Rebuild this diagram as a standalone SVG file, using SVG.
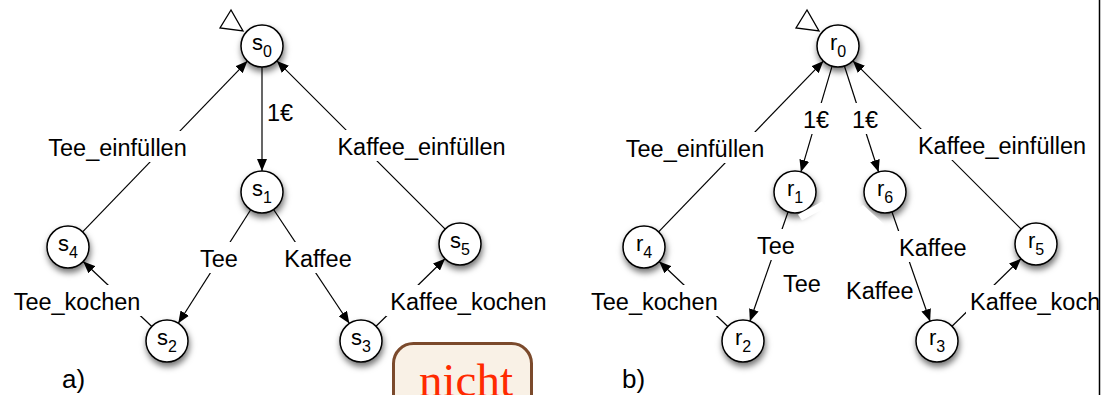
<svg xmlns="http://www.w3.org/2000/svg" width="1113" height="395" viewBox="0 0 1113 395">
  <style>
    text { font-family: "Liberation Sans", Arial, Helvetica, sans-serif; fill: #000; }
    .node circle { fill: #fff; stroke: #000; stroke-width: 1.5; filter: url(#shadow); }
    .node text { font-size: 22px; text-anchor: middle; }
    .node tspan { font-size: 16px; }
    .edge { stroke: #000; stroke-width: 1.2; fill: none; marker-end: url(#arrow); }
    .bg { fill: #fff; }
    .lbl { font-size: 23.5px; }
    .mid { text-anchor: middle; }
    .start-mark { fill: #fff; stroke: #000; stroke-width: 1.3; }
    .part { font-size: 26px; }
  </style>
  <defs>
    <filter id="shadow" x="-60%" y="-60%" width="220%" height="220%">
      <feDropShadow dx="1" dy="4" stdDeviation="3" flood-color="#000" flood-opacity="0.55"/>
    </filter>
    <marker id="arrow" markerWidth="13" markerHeight="10" refX="12" refY="5" orient="auto" markerUnits="userSpaceOnUse">
      <path d="M0,0 L12,5 L0,10 z" fill="#000"/>
    </marker>
    <clipPath id="frame">
      <rect x="0" y="0" width="1098.8" height="395"/>
    </clipPath>
  </defs>

  <rect x="0" y="0" width="1113" height="395" fill="#fff"/>

  <!-- transitions -->
  <g id="connectors">
    <!-- a) -->
    <line class="edge" x1="262" y1="67" x2="262" y2="171"/>
    <line class="edge" x1="250.7" y1="209.7" x2="178.3" y2="323.3"/>
    <line class="edge" x1="273.6" y1="209.5" x2="349.4" y2="323.5"/>
    <line class="edge" x1="151.8" y1="326.5" x2="83.2" y2="261.5"/>
    <line class="edge" x1="376" y1="326.3" x2="445" y2="258.7"/>
    <line class="edge" x1="82.6" y1="231.9" x2="247.4" y2="61.1"/>
    <line class="edge" x1="445.2" y1="229.2" x2="276.9" y2="60.9"/>
    <!-- b) -->
    <line class="edge" x1="832.1" y1="66.1" x2="800.9" y2="171.9"/>
    <line class="edge" x1="844.4" y1="66" x2="878.6" y2="172"/>
    <line class="edge" x1="788.1" y1="211.8" x2="749.9" y2="321.2"/>
    <line class="edge" x1="891.9" y1="211.8" x2="930.1" y2="321.2"/>
    <line class="edge" x1="727.8" y1="326.5" x2="659.2" y2="261.5"/>
    <line class="edge" x1="952" y1="326.3" x2="1021" y2="258.7"/>
    <line class="edge" x1="658.6" y1="231.9" x2="823.4" y2="61.1"/>
    <line class="edge" x1="1021.2" y1="229.2" x2="852.9" y2="60.9"/>
  </g>

  <!-- transition labels -->
  <g id="labels">
    <!-- a) -->
    <rect class="bg" x="263" y="96" width="34" height="31"/>
    <text class="lbl" x="267" y="121">1€</text>
    <rect class="bg" x="43" y="131" width="149" height="31"/>
    <text class="lbl mid" x="117.5" y="156">Tee_einfüllen</text>
    <rect class="bg" x="333" y="130" width="177" height="31"/>
    <text class="lbl mid" x="421.5" y="155">Kaffee_einfüllen</text>
    <rect class="bg" x="195" y="242" width="49" height="31"/>
    <text class="lbl mid" x="219" y="267">Tee</text>
    <rect class="bg" x="280" y="242" width="76" height="31"/>
    <text class="lbl mid" x="318" y="267">Kaffee</text>
    <rect class="bg" x="8" y="285" width="138" height="31"/>
    <text class="lbl mid" x="77" y="310">Tee_kochen</text>
    <rect class="bg" x="386" y="285" width="165" height="31"/>
    <text class="lbl mid" x="468.5" y="310">Kaffee_kochen</text>
    <!-- b) -->
    <rect class="bg" x="799" y="103" width="34" height="31"/>
    <text class="lbl" x="803" y="128">1€</text>
    <rect class="bg" x="848" y="103" width="34" height="31"/>
    <text class="lbl" x="852" y="128">1€</text>
    <rect class="bg" x="620" y="132" width="149" height="31"/>
    <text class="lbl mid" x="695" y="157">Tee_einfüllen</text>
    <rect class="bg" x="914" y="129" width="177" height="31"/>
    <text class="lbl mid" x="1002" y="154">Kaffee_einfüllen</text>
    <rect class="bg" x="752" y="229" width="49" height="31"/>
    <text class="lbl mid" x="776" y="254">Tee</text>
    <rect class="bg" x="895" y="231" width="76" height="31"/>
    <text class="lbl" x="899" y="256">Kaffee</text>
    <text class="lbl" x="783" y="292">Tee</text>
    <text class="lbl" x="846" y="299">Kaffee</text>
    <rect class="bg" x="587" y="285" width="138" height="31"/>
    <text class="lbl" x="591" y="310">Tee_kochen</text>
    <g clip-path="url(#frame)">
      <rect class="bg" x="966" y="285" width="165" height="31"/>
      <text class="lbl" x="970" y="310">Kaffee_kochen</text>
    </g>
  </g>

  <!-- initial-state markers -->
  <polygon class="start-mark" points="231,10 220,28 243,31"/>
  <polygon class="start-mark" points="807,10 796,28 819,31"/>

  <!-- states a) -->
  <g id="s0" class="node"><circle cx="262" cy="46" r="21"/><text x="262" y="50">s<tspan dy="7">0</tspan></text></g>
  <g id="s1" class="node"><circle cx="262" cy="192" r="21"/><text x="262" y="196">s<tspan dy="7">1</tspan></text></g>
  <g id="s2" class="node"><circle cx="167" cy="341" r="21"/><text x="167" y="345">s<tspan dy="7">2</tspan></text></g>
  <g id="s3" class="node"><circle cx="361" cy="341" r="21"/><text x="361" y="345">s<tspan dy="7">3</tspan></text></g>
  <g id="s4" class="node"><circle cx="68" cy="247" r="21"/><text x="68" y="251">s<tspan dy="7">4</tspan></text></g>
  <g id="s5" class="node"><circle cx="460" cy="244" r="21"/><text x="460" y="248">s<tspan dy="7">5</tspan></text></g>

  <!-- states b) -->
  <g id="r0" class="node"><circle cx="838" cy="46" r="21"/><text x="838" y="50">r<tspan dy="7">0</tspan></text></g>
  <g id="r1" class="node"><circle cx="795" cy="192" r="21"/><text x="795" y="196">r<tspan dy="7">1</tspan></text></g>
  <g id="r6" class="node"><circle cx="885" cy="192" r="21"/><text x="885" y="196">r<tspan dy="7">6</tspan></text></g>
  <g id="r2" class="node"><circle cx="743" cy="341" r="21"/><text x="743" y="345">r<tspan dy="7">2</tspan></text></g>
  <g id="r3" class="node"><circle cx="937" cy="341" r="21"/><text x="937" y="345">r<tspan dy="7">3</tspan></text></g>
  <g id="r4" class="node"><circle cx="644" cy="247" r="21"/><text x="644" y="251">r<tspan dy="7">4</tspan></text></g>
  <g id="r5" class="node"><circle cx="1036" cy="244" r="21"/><text x="1036" y="248">r<tspan dy="7">5</tspan></text></g>

  <!-- leftover white patches over the shadows under r1 and r6 -->
  <polygon class="bg" points="798,214.5 822,201.5 826,207.5 802,220.5"/>
  <polygon class="bg" points="857,210 863,205 884,224 878,230"/>

  <!-- part captions -->
  <text class="part" x="62" y="388">a)</text>
  <text class="part" x="622" y="388">b)</text>

  <!-- "nicht" badge -->
  <g id="nicht">
    <rect x="393.5" y="343.5" width="138" height="80" rx="20" ry="20" fill="#f9f1e6" stroke="#7b4a2c" stroke-width="3"/>
    <text x="466" y="396" text-anchor="middle" style="font-family: 'Liberation Serif', 'Times New Roman', serif; font-size: 47px; fill: #ff2a00;">nicht</text>
  </g>

  <!-- frame edge on the right -->
  <line x1="1099.5" y1="0" x2="1099.5" y2="395" stroke="#000" stroke-width="1.5"/>
</svg>
